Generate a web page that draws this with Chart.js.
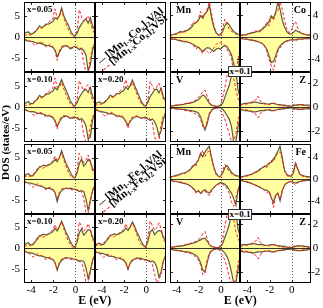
<!DOCTYPE html>
<html>
<head>
<meta charset="utf-8">
<script src="https://cdn.jsdelivr.net/npm/chart.js@4"></script>
<style>
html, body { margin: 0; padding: 0; background: #fff; }
#wrap { position: relative; width: 323px; height: 308px; }
#grab { position: absolute; left: 0; top: 0; }
.lg { position: absolute; height: 8px; font: bold 11px "Liberation Serif", serif; line-height: 8px; white-space: nowrap; color: #000;
      transform-origin: 0 100%; transform: rotate(-40deg); }
.lg sub { font-size: 7.5px; line-height: 0; vertical-align: -2px; }
.ln { display: inline-block; width: 8px; height: 0; border-top: 1px solid #5c5c3a; vertical-align: middle; margin-right: 2px; }
.ln.d { border-top: 1px dashed #ff2020; }
.bx { position: absolute; left: 228px; width: 24px; height: 11px; box-sizing: border-box; border: 1px solid #333; background: #fff;
      font: bold 9px "Liberation Serif", serif; line-height: 9px; text-align: center; color: #000; }
</style>
</head>
<body>
<div id="wrap">
<canvas id="grab" width="323" height="308"></canvas>
<div class="lg" style="left:100.5px;top:57px"><span class="ln"></span>[Mn<sub>1-x</sub>Co<sub>x</sub>]<sub>2</sub>VAl</div>
<div class="lg" style="left:105px;top:64px"><span class="ln d"></span>[Mn<sub>1-x</sub>Co<sub>x</sub>]<sub>2</sub>VSi</div>
<div class="lg" style="left:100.5px;top:199px"><span class="ln"></span>[Mn<sub>1-x</sub>Fe<sub>x</sub>]<sub>2</sub>VAl</div>
<div class="lg" style="left:105px;top:206px"><span class="ln d"></span>[Mn<sub>1-x</sub>Fe<sub>x</sub>]<sub>2</sub>VSi</div>
<div class="bx" style="top:66px">x=0.1</div>
<div class="bx" style="top:209px">x=0.1</div>
</div>
<script>
// energy grid (eV) shared by every curve
const energy = [-4.65, -4.45, -4.25, -4.05, -3.85, -3.65, -3.45, -3.25, -3.05, -2.85, -2.65, -2.45, -2.25, -2.05, -1.85, -1.65, -1.45, -1.25, -1.05, -0.85, -0.65, -0.45, -0.25, -0.05, 0.15, 0.35, 0.55, 0.75, 0.95, 1.15, 1.35, 1.55, 1.75];

const energyTicks = [-4, -2, 0];
const totalTicks = [-5, 0, 5];
const pdosTicks = [-4, 0, 4];
const smallTicks = [-2, 0, 2];

// total DOS, (Mn1-xCox)2VAl (solid) / (Mn1-xCox)2VSi (dashed)
const co005AlUp = [0.8, 1.1, 1.2, 0.7, 0.8, 1.2, 1.8, 2.6, 2.2, 2.6, 3.0, 3.0, 3.3, 3.6, 4.5, 4.2, 5.0, 6.8, 5.0, 3.8, 2.8, 1.5, 0.6, 0.2, 0.9, 2.2, 3.0, 3.8, 4.3, 3.2, 4.5, 2.6, 1.8];
const co005AlDn = [-0.6, -0.8, -1.0, -1.0, -1.1, -1.3, -1.5, -1.4, -1.6, -1.8, -2.0, -2.0, -2.2, -2.4, -3.0, -4.6, -3.6, -2.6, -2.2, -2.0, -2.3, -2.8, -2.4, -2.2, -2.6, -3.0, -2.6, -3.2, -4.2, -8.0, -6.5, -3.0, -1.5];
const co005SiUp = [0.3, 0.5, 0.6, 0.4, 0.9, 1.4, 1.8, 2.2, 2.0, 2.4, 2.8, 3.4, 3.8, 4.2, 6.6, 4.4, 4.8, 6.4, 4.4, 3.0, 1.8, 0.8, 0.2, 0.2, 1.5, 6.4, 4.8, 3.6, 4.2, 5.0, 3.8, 1.6, 0.8];
const co005SiDn = [-0.4, -0.6, -0.8, -1.0, -1.6, -2.0, -1.6, -1.2, -1.3, -1.6, -2.4, -2.0, -1.7, -2.2, -3.2, -5.5, -3.2, -2.2, -2.0, -2.0, -2.2, -2.4, -2.6, -2.5, -2.3, -2.6, -3.0, -6.0, -8.2, -8.2, -5.0, -2.4, -1.5];
const co010AlUp = [0.7, 1.0, 1.3, 0.8, 0.8, 1.3, 1.9, 2.7, 2.3, 2.5, 3.1, 3.0, 3.4, 3.7, 4.6, 4.0, 5.2, 6.4, 5.1, 3.9, 2.7, 1.4, 0.6, 0.2, 1.0, 2.3, 3.1, 3.9, 4.1, 3.4, 4.6, 2.4, 1.7];
const co010AlDn = [-0.6, -0.8, -1.0, -1.1, -1.1, -1.2, -1.5, -1.5, -1.6, -1.7, -2.0, -2.1, -2.2, -2.5, -3.2, -4.5, -3.5, -2.6, -2.3, -2.1, -2.3, -2.7, -2.4, -2.3, -2.7, -3.0, -2.7, -3.3, -4.4, -7.5, -7.0, -3.0, -1.6];
const co010SiUp = [0.3, 0.4, 0.7, 0.5, 1.0, 1.5, 1.7, 2.3, 2.1, 2.5, 2.9, 3.5, 3.9, 4.4, 6.8, 4.6, 4.6, 5.8, 4.2, 2.9, 1.7, 0.7, 0.2, 0.3, 1.8, 6.2, 5.0, 3.8, 4.8, 5.2, 3.6, 1.5, 0.8];
const co010SiDn = [-0.4, -0.6, -0.9, -1.2, -1.8, -2.1, -1.5, -1.2, -1.4, -1.7, -2.5, -2.0, -1.8, -2.3, -3.5, -5.2, -3.0, -2.2, -2.0, -2.1, -2.3, -2.5, -2.7, -2.6, -2.4, -2.7, -3.2, -6.5, -8.2, -8.2, -4.5, -2.2, -1.4];
const co020AlUp = [0.6, 1.0, 1.2, 0.9, 0.9, 1.4, 2.0, 2.8, 2.4, 2.6, 3.2, 3.1, 3.5, 3.8, 4.7, 4.1, 5.1, 6.3, 5.0, 3.8, 2.6, 1.3, 0.5, 0.2, 1.1, 2.4, 3.2, 4.0, 4.2, 3.3, 4.4, 2.3, 1.6];
const co020AlDn = [-0.6, -0.8, -1.0, -1.1, -1.2, -1.3, -1.5, -1.6, -1.6, -1.8, -2.1, -2.1, -2.3, -2.6, -3.3, -4.3, -3.4, -2.7, -2.4, -2.2, -2.4, -2.6, -2.5, -2.4, -2.8, -3.1, -2.8, -3.4, -4.6, -6.8, -5.5, -2.8, -1.5];
const co020SiUp = [0.3, 0.5, 0.7, 0.6, 1.1, 1.6, 1.9, 2.4, 2.2, 2.6, 3.0, 3.6, 4.0, 4.5, 6.4, 4.7, 4.7, 5.8, 4.3, 3.0, 1.8, 0.8, 0.3, 0.3, 1.6, 6.0, 5.0, 4.0, 4.6, 5.6, 3.8, 1.8, 1.0];
const co020SiDn = [-0.4, -0.6, -0.9, -1.3, -1.9, -2.2, -1.6, -1.2, -1.4, -1.8, -2.6, -2.1, -1.9, -2.4, -3.6, -5.0, -3.0, -2.3, -2.1, -2.1, -2.4, -2.6, -2.8, -2.7, -2.5, -2.8, -3.6, -7.0, -8.2, -8.0, -4.0, -2.0, -1.3];

// partial DOS, Co set (x = 0.1)
const mnCoAlUp = [0.3, 0.4, 0.5, 0.6, 0.8, 1.0, 0.9, 1.1, 1.2, 1.4, 1.8, 2.4, 2.6, 3.0, 3.8, 3.4, 4.2, 4.6, 5.8, 3.4, 1.8, 0.8, 0.4, 0.4, 1.0, 2.0, 2.6, 2.2, 1.5, 1.0, 0.7, 0.5, 0.4];
const mnCoAlDn = [-0.3, -0.4, -0.4, -0.5, -0.6, -0.7, -0.8, -0.9, -0.9, -1.0, -1.2, -1.4, -1.7, -1.9, -2.2, -2.6, -2.2, -1.9, -2.0, -2.3, -2.6, -2.2, -2.0, -2.2, -1.8, -1.5, -1.8, -2.4, -3.2, -4.8, -6.3, -6.3, -2.2];
const mnCoSiUp = [0.2, 0.3, 0.4, 0.5, 0.6, 0.8, 1.0, 0.9, 1.2, 1.6, 2.2, 2.8, 2.4, 3.2, 4.6, 3.6, 4.2, 5.0, 6.3, 4.2, 2.2, 0.8, 0.3, 0.4, 1.6, 3.2, 2.2, 1.4, 1.0, 0.8, 0.5, 0.3, 0.3];
const mnCoSiDn = [-0.2, -0.3, -0.3, -0.4, -0.5, -0.6, -0.7, -0.8, -0.8, -1.0, -1.2, -1.6, -2.2, -1.6, -2.4, -3.0, -2.2, -2.6, -3.0, -2.6, -2.0, -1.4, -1.0, -1.0, -1.2, -1.6, -2.2, -3.0, -3.8, -6.3, -6.3, -4.0, -1.8];
const coAlUp = [0.3, 0.4, 0.4, 0.5, 0.6, 0.7, 0.8, 0.9, 1.0, 1.2, 1.4, 1.8, 2.2, 2.8, 3.8, 3.4, 4.4, 6.3, 5.0, 3.0, 1.8, 1.0, 0.6, 0.5, 0.8, 1.2, 1.0, 0.8, 0.6, 0.5, 0.4, 0.4, 0.3];
const coAlDn = [-0.3, -0.3, -0.4, -0.4, -0.5, -0.5, -0.6, -0.7, -0.8, -1.0, -1.2, -1.6, -2.2, -3.4, -4.6, -4.4, -3.4, -2.2, -1.6, -1.2, -0.9, -0.7, -0.6, -0.5, -0.5, -0.5, -0.4, -0.4, -0.4, -0.3, -0.3, -0.3, -0.3];
const coSiUp = [0.2, 0.3, 0.3, 0.4, 0.6, 0.8, 1.0, 1.1, 1.0, 0.9, 1.6, 2.0, 2.6, 2.0, 3.6, 3.0, 4.2, 4.8, 6.3, 5.0, 3.0, 1.5, 0.8, 1.0, 2.2, 2.8, 1.6, 0.9, 0.6, 0.5, 0.4, 0.3, 0.3];
const coSiDn = [-0.2, -0.3, -0.3, -0.4, -0.5, -0.6, -0.7, -0.8, -0.9, -1.0, -1.2, -1.6, -2.6, -4.0, -5.2, -6.0, -4.2, -2.6, -2.0, -1.3, -1.0, -0.8, -0.6, -0.5, -0.5, -0.6, -0.5, -0.4, -0.4, -0.3, -0.3, -0.3, -0.3];
const vCoAlUp = [0.1, 0.1, 0.1, 0.15, 0.15, 0.2, 0.2, 0.25, 0.3, 0.3, 0.35, 0.4, 0.5, 0.6, 0.8, 1.0, 0.9, 0.6, 0.3, 0.15, 0.1, 0.05, 0.05, 0.1, 0.3, 0.8, 1.3, 1.8, 2.6, 2.9, 2.9, 1.4, 0.8];
const vCoAlDn = [-0.1, -0.1, -0.1, -0.15, -0.15, -0.2, -0.2, -0.2, -0.25, -0.3, -0.3, -0.35, -0.4, -0.5, -0.8, -1.4, -1.9, -1.4, -0.6, -0.3, -0.15, -0.1, -0.05, -0.05, -0.2, -0.4, -0.7, -1.0, -1.6, -2.9, -2.9, -1.6, -0.8];
const vCoSiUp = [0.1, 0.1, 0.15, 0.15, 0.2, 0.2, 0.25, 0.3, 0.3, 0.35, 0.4, 0.5, 0.6, 0.8, 1.0, 1.3, 1.4, 0.9, 0.4, 0.15, 0.1, 0.05, 0.05, 0.2, 0.8, 1.6, 2.6, 2.9, 2.9, 2.4, 1.4, 0.7, 0.4];
const vCoSiDn = [-0.1, -0.1, -0.15, -0.15, -0.2, -0.2, -0.25, -0.3, -0.3, -0.35, -0.4, -0.5, -0.6, -0.7, -1.0, -1.6, -1.8, -1.2, -0.5, -0.2, -0.1, -0.05, -0.1, -0.3, -0.6, -1.0, -1.6, -2.2, -2.9, -2.9, -2.2, -1.0, -0.5];
const zCoAlUp = [0.25, 0.25, 0.3, 0.3, 0.35, 0.35, 0.4, 0.4, 0.35, 0.3, 0.3, 0.3, 0.25, 0.25, 0.3, 0.3, 0.25, 0.2, 0.2, 0.15, 0.15, 0.1, 0.1, 0.05, 0.1, 0.15, 0.15, 0.2, 0.2, 0.15, 0.15, 0.15, 0.1];
const zCoAlDn = [-0.25, -0.25, -0.3, -0.3, -0.35, -0.35, -0.4, -0.4, -0.35, -0.3, -0.3, -0.3, -0.25, -0.25, -0.3, -0.3, -0.25, -0.2, -0.2, -0.15, -0.15, -0.1, -0.1, -0.05, -0.1, -0.15, -0.15, -0.2, -0.2, -0.15, -0.15, -0.15, -0.1];
const zCoSiUp = [0.15, 0.2, 0.2, 0.25, 0.3, 0.4, 0.5, 0.6, 0.9, 0.5, 0.3, 0.25, 0.2, 0.2, 0.25, 0.3, 0.3, 0.2, 0.15, 0.1, 0.1, 0.05, 0.05, 0.1, 0.2, 0.25, 0.2, 0.15, 0.15, 0.15, 0.1, 0.1, 0.1];
const zCoSiDn = [-0.15, -0.2, -0.2, -0.25, -0.3, -0.4, -0.5, -0.6, -0.9, -0.6, -0.3, -0.25, -0.2, -0.2, -0.25, -0.3, -0.3, -0.2, -0.15, -0.1, -0.1, -0.05, -0.05, -0.1, -0.2, -0.25, -0.2, -0.15, -0.15, -0.15, -0.1, -0.1, -0.1];

// total DOS, (Mn1-xFex)2VAl / (Mn1-xFex)2VSi
const fe005AlUp = [0.6, 1.0, 1.2, 0.7, 0.7, 1.4, 2.0, 2.8, 3.0, 3.2, 3.0, 3.2, 3.5, 3.8, 4.6, 4.0, 5.0, 6.6, 5.0, 3.6, 2.6, 1.4, 0.5, 0.2, 1.4, 3.6, 4.6, 3.0, 3.6, 4.6, 4.0, 2.4, 1.8];
const fe005AlDn = [-0.7, -0.9, -1.0, -1.0, -1.2, -1.3, -1.6, -1.7, -1.8, -2.0, -2.3, -2.2, -2.4, -2.6, -3.2, -5.4, -3.6, -2.8, -2.4, -2.2, -2.3, -2.2, -2.4, -2.5, -2.7, -3.0, -2.8, -3.0, -4.8, -7.5, -5.0, -2.8, -1.6];
const fe005SiUp = [0.4, 0.6, 0.7, 0.5, 1.0, 1.6, 2.4, 3.0, 2.4, 2.6, 3.0, 3.4, 3.8, 4.2, 5.4, 4.2, 5.0, 6.0, 4.5, 3.0, 1.6, 0.7, 0.2, 0.3, 2.0, 6.0, 5.0, 3.8, 4.4, 5.6, 4.2, 1.8, 1.0];
const fe005SiDn = [-0.5, -0.8, -1.0, -1.5, -2.0, -1.6, -1.2, -1.4, -1.8, -2.2, -2.6, -2.2, -2.0, -2.4, -3.4, -4.6, -3.2, -2.4, -2.2, -2.3, -2.4, -2.5, -2.6, -2.6, -2.5, -2.8, -3.2, -4.6, -8.2, -8.2, -5.5, -2.6, -1.6];
const fe010AlUp = [0.7, 1.1, 1.3, 0.8, 0.8, 1.5, 2.1, 2.9, 3.1, 3.3, 3.1, 3.3, 3.6, 3.9, 4.7, 4.1, 5.1, 6.4, 5.1, 3.7, 2.7, 1.5, 0.6, 0.2, 1.5, 3.7, 4.5, 3.1, 3.7, 4.4, 4.2, 2.6, 1.8];
const fe010AlDn = [-0.7, -0.9, -1.1, -1.1, -1.2, -1.4, -1.7, -1.8, -1.8, -2.0, -2.2, -2.2, -2.5, -2.7, -3.3, -5.2, -3.6, -2.9, -2.5, -2.2, -2.3, -2.3, -2.5, -2.6, -2.8, -3.1, -2.9, -3.1, -4.6, -7.2, -5.2, -2.8, -1.6];
const fe010SiUp = [0.4, 0.6, 0.8, 0.6, 1.1, 1.7, 2.5, 3.1, 2.5, 2.7, 3.1, 3.5, 3.9, 4.3, 5.6, 4.3, 5.1, 6.2, 4.6, 3.1, 1.7, 0.8, 0.2, 0.3, 2.2, 6.2, 5.2, 4.0, 4.6, 5.8, 4.4, 2.0, 1.1];
const fe010SiDn = [-0.5, -0.8, -1.1, -1.6, -2.1, -1.7, -1.3, -1.5, -1.9, -2.3, -2.7, -2.3, -2.1, -2.5, -3.5, -4.8, -3.3, -2.5, -2.3, -2.4, -2.5, -2.6, -2.7, -2.7, -2.6, -2.9, -3.4, -5.0, -8.2, -8.2, -5.8, -2.8, -1.7];
const fe020AlUp = [0.7, 1.0, 1.2, 0.9, 0.9, 1.6, 2.2, 3.0, 3.2, 3.4, 3.2, 3.4, 3.7, 4.0, 4.8, 4.2, 5.0, 6.2, 5.2, 3.8, 2.8, 1.6, 0.7, 0.3, 1.6, 3.8, 4.4, 3.2, 3.8, 4.2, 4.0, 2.6, 1.9];
const fe020AlDn = [-0.7, -1.0, -1.1, -1.2, -1.3, -1.5, -1.8, -1.9, -1.9, -2.1, -2.3, -2.3, -2.6, -2.8, -3.4, -5.0, -3.5, -2.9, -2.6, -2.3, -2.4, -2.4, -2.6, -2.7, -2.9, -3.2, -3.0, -3.3, -4.4, -6.8, -5.6, -3.0, -1.7];
const fe020SiUp = [0.5, 0.7, 0.8, 0.7, 1.2, 1.8, 2.6, 3.2, 2.6, 2.8, 3.2, 3.6, 4.0, 4.4, 5.8, 4.4, 5.2, 6.0, 4.7, 3.2, 1.8, 0.9, 0.3, 0.4, 2.4, 6.4, 5.4, 4.2, 4.8, 6.0, 4.6, 2.2, 1.2];
const fe020SiDn = [-0.5, -0.9, -1.2, -1.7, -2.2, -1.8, -1.4, -1.6, -2.0, -2.4, -2.8, -2.4, -2.2, -2.6, -3.6, -5.0, -3.4, -2.6, -2.4, -2.5, -2.6, -2.7, -2.8, -2.8, -2.7, -3.0, -3.8, -6.0, -8.2, -7.5, -6.0, -3.0, -1.8];

// partial DOS, Fe set (x = 0.1)
const mnFeAlUp = [0.3, 0.4, 0.5, 0.6, 0.7, 0.9, 1.0, 1.1, 1.3, 1.5, 2.0, 2.4, 2.8, 3.4, 4.6, 4.0, 4.8, 5.4, 5.9, 3.8, 2.2, 1.0, 0.5, 0.4, 1.0, 2.0, 2.4, 1.8, 1.2, 0.8, 0.6, 0.5, 0.4];
const mnFeAlDn = [-0.3, -0.4, -0.5, -0.5, -0.6, -0.7, -0.8, -0.9, -1.0, -1.2, -1.5, -1.9, -2.4, -2.2, -2.6, -2.2, -2.0, -2.4, -2.6, -2.0, -1.6, -1.2, -0.9, -0.7, -0.8, -1.0, -1.4, -2.0, -2.6, -3.6, -4.8, -2.0, -1.0];
const mnFeSiUp = [0.2, 0.3, 0.4, 0.5, 0.6, 0.8, 1.0, 1.0, 1.2, 1.6, 2.2, 2.6, 2.4, 3.4, 4.2, 5.2, 4.0, 4.8, 5.0, 3.6, 2.0, 0.8, 0.3, 0.4, 1.4, 2.6, 2.0, 1.2, 0.9, 0.7, 0.5, 0.3, 0.3];
const mnFeSiDn = [-0.2, -0.3, -0.4, -0.5, -0.5, -0.6, -0.7, -0.8, -1.0, -1.2, -1.6, -2.0, -2.6, -2.0, -2.8, -2.4, -2.2, -2.8, -3.0, -2.2, -1.6, -1.2, -1.0, -0.9, -1.0, -1.3, -1.8, -2.6, -4.2, -5.0, -3.4, -1.8, -1.0];
const feAlUp = [0.3, 0.4, 0.5, 0.6, 0.7, 0.8, 1.0, 1.2, 1.4, 1.8, 2.0, 2.2, 2.4, 2.8, 3.0, 3.6, 4.2, 5.0, 5.9, 3.8, 1.6, 0.8, 0.6, 0.4, 1.0, 2.8, 1.8, 0.8, 0.6, 0.5, 0.4, 0.4, 0.3];
const feAlDn = [-0.3, -0.4, -0.5, -0.6, -0.7, -0.9, -1.0, -1.2, -1.4, -1.6, -1.8, -2.0, -2.1, -2.4, -3.4, -4.3, -3.0, -2.6, -4.0, -2.2, -1.2, -0.8, -0.6, -0.5, -0.6, -0.8, -0.6, -0.5, -0.4, -0.4, -0.3, -0.3, -0.3];
const feSiUp = [0.2, 0.3, 0.4, 0.5, 0.6, 0.8, 1.0, 1.2, 1.2, 1.6, 2.0, 2.4, 2.0, 2.6, 3.4, 3.0, 4.0, 4.6, 4.9, 3.4, 1.4, 0.6, 0.4, 0.5, 1.4, 3.0, 1.6, 0.7, 0.5, 0.4, 0.3, 0.3, 0.3];
const feSiDn = [-0.2, -0.3, -0.4, -0.5, -0.6, -0.8, -1.0, -1.2, -1.2, -1.5, -1.8, -2.2, -2.6, -2.2, -3.4, -5.2, -3.2, -2.8, -3.6, -2.0, -1.2, -0.7, -0.5, -0.5, -0.8, -1.2, -0.7, -0.5, -0.4, -0.3, -0.3, -0.3, -0.3];
const vFeAlUp = [0.1, 0.1, 0.1, 0.15, 0.15, 0.2, 0.2, 0.25, 0.3, 0.35, 0.4, 0.45, 0.5, 0.6, 0.7, 0.8, 0.85, 0.6, 0.3, 0.15, 0.1, 0.05, 0.05, 0.1, 0.4, 0.9, 1.4, 2.0, 2.8, 2.9, 2.9, 1.6, 0.9];
const vFeAlDn = [-0.1, -0.1, -0.15, -0.15, -0.2, -0.2, -0.25, -0.3, -0.3, -0.35, -0.4, -0.5, -0.6, -0.8, -1.2, -1.8, -2.0, -1.2, -0.5, -0.2, -0.1, -0.05, -0.05, -0.1, -0.2, -0.4, -0.7, -1.2, -2.0, -2.9, -2.9, -1.8, -0.9];
const vFeSiUp = [0.1, 0.1, 0.15, 0.15, 0.2, 0.2, 0.25, 0.3, 0.35, 0.4, 0.45, 0.5, 0.6, 0.7, 0.9, 1.2, 1.4, 0.8, 0.3, 0.15, 0.1, 0.05, 0.1, 0.2, 0.8, 1.8, 2.8, 2.9, 2.9, 2.4, 1.4, 0.8, 0.4];
const vFeSiDn = [-0.1, -0.1, -0.15, -0.2, -0.2, -0.25, -0.3, -0.3, -0.35, -0.4, -0.5, -0.6, -0.8, -1.0, -1.4, -2.2, -2.0, -1.0, -0.4, -0.2, -0.1, -0.05, -0.1, -0.3, -0.6, -1.0, -1.6, -2.4, -2.9, -2.9, -2.6, -1.2, -0.6];
const zFeAlUp = [0.25, 0.3, 0.3, 0.3, 0.35, 0.35, 0.4, 0.35, 0.3, 0.3, 0.3, 0.25, 0.25, 0.25, 0.3, 0.3, 0.25, 0.2, 0.2, 0.15, 0.15, 0.1, 0.1, 0.05, 0.1, 0.15, 0.2, 0.2, 0.2, 0.15, 0.15, 0.1, 0.1];
const zFeAlDn = [-0.25, -0.3, -0.3, -0.3, -0.35, -0.35, -0.4, -0.35, -0.3, -0.3, -0.3, -0.25, -0.25, -0.25, -0.3, -0.3, -0.25, -0.2, -0.2, -0.15, -0.15, -0.1, -0.1, -0.05, -0.1, -0.15, -0.2, -0.2, -0.2, -0.15, -0.15, -0.1, -0.1];
const zFeSiUp = [0.15, 0.2, 0.25, 0.25, 0.3, 0.4, 0.5, 0.6, 0.9, 0.5, 0.3, 0.25, 0.2, 0.2, 0.25, 0.3, 0.3, 0.2, 0.15, 0.1, 0.1, 0.05, 0.05, 0.1, 0.15, 0.25, 0.2, 0.15, 0.15, 0.1, 0.1, 0.1, 0.1];
const zFeSiDn = [-0.15, -0.2, -0.25, -0.25, -0.3, -0.4, -0.5, -0.6, -0.9, -0.6, -0.3, -0.25, -0.2, -0.2, -0.25, -0.3, -0.3, -0.2, -0.15, -0.1, -0.1, -0.05, -0.05, -0.1, -0.15, -0.25, -0.2, -0.15, -0.15, -0.1, -0.1, -0.1, -0.1];

const serif = '"Liberation Serif", "Times New Roman", serif';
const alColor = '#5c5c3a';
const alFill = '#ffffa0';
const siColor = '#ff2020';

// one entry per sub-panel; x/y are the scale ids of its column and row
const panels = [
  {x: 'x1', y: 'yl1', name: 'x=0.05', al: [co005AlUp, co005AlDn], si: [co005SiUp, co005SiDn]},
  {x: 'x2', y: 'yl1', legend: true},
  {x: 'x1', y: 'yl2', name: 'x=0.10', al: [co010AlUp, co010AlDn], si: [co010SiUp, co010SiDn]},
  {x: 'x2', y: 'yl2', name: 'x=0.20', al: [co020AlUp, co020AlDn], si: [co020SiUp, co020SiDn]},
  {x: 'x3', y: 'yr1', name: 'Mn', big: true, al: [mnCoAlUp, mnCoAlDn], si: [mnCoSiUp, mnCoSiDn]},
  {x: 'x4', y: 'yr1', name: 'Co', big: true, right: true, al: [coAlUp, coAlDn], si: [coSiUp, coSiDn]},
  {x: 'x3', y: 'yr2', name: 'V', big: true, al: [vCoAlUp, vCoAlDn], si: [vCoSiUp, vCoSiDn]},
  {x: 'x4', y: 'yr2', name: 'Z', big: true, right: true, al: [zCoAlUp, zCoAlDn], si: [zCoSiUp, zCoSiDn]},
  {x: 'x1', y: 'yl3', name: 'x=0.05', al: [fe005AlUp, fe005AlDn], si: [fe005SiUp, fe005SiDn]},
  {x: 'x2', y: 'yl3', legend: true},
  {x: 'x1', y: 'yl4', name: 'x=0.10', al: [fe010AlUp, fe010AlDn], si: [fe010SiUp, fe010SiDn]},
  {x: 'x2', y: 'yl4', name: 'x=0.20', al: [fe020AlUp, fe020AlDn], si: [fe020SiUp, fe020SiDn]},
  {x: 'x3', y: 'yr3', name: 'Mn', big: true, al: [mnFeAlUp, mnFeAlDn], si: [mnFeSiUp, mnFeSiDn]},
  {x: 'x4', y: 'yr3', name: 'Fe', big: true, right: true, al: [feAlUp, feAlDn], si: [feSiUp, feSiDn]},
  {x: 'x3', y: 'yr4', name: 'V', big: true, al: [vFeAlUp, vFeAlDn], si: [vFeSiUp, vFeSiDn]},
  {x: 'x4', y: 'yr4', name: 'Z', big: true, right: true, al: [zFeAlUp, zFeAlDn], si: [zFeSiUp, zFeSiDn]}
];

const rowTicks = {yl1: totalTicks, yl2: totalTicks, yl3: totalTicks, yl4: totalTicks,
                  yr1: pdosTicks, yr2: smallTicks, yr3: pdosTicks, yr4: smallTicks};

const pts = (ys) => ys.map((y, i) => ({x: energy[i], y: y}));

const siSets = [];
const alSets = [];
panels.forEach(p => {
  if (p.legend) return;
  p.si.forEach(arr => siSets.push({
    data: pts(arr), xAxisID: p.x, yAxisID: p.y,
    borderColor: siColor, borderWidth: 1, borderDash: [3, 2], fill: false
  }));
  p.al.forEach(arr => alSets.push({
    data: pts(arr), xAxisID: p.x, yAxisID: p.y,
    borderColor: alColor, borderWidth: 1.2, backgroundColor: alFill, fill: 'origin'
  }));
});

const tickFont = {family: serif, size: 11};
const setTicks = (vals) => (s) => { s.ticks = vals.map(v => ({value: v})); };
const fixSize = (w, h) => (s) => {
  if (w) s.width = w;
  if (h) s.height = h;
  s.paddingTop = 0; s.paddingBottom = 0; s.paddingLeft = 0; s.paddingRight = 0;
};

function xAxis(w, wt, shown) {
  return {
    type: 'linear', axis: 'x', position: 'bottom', stack: 'bx', stackWeight: w, weight: wt, display: shown,
    min: -4.65, max: 1.75,
    afterBuildTicks: setTicks(energyTicks),
    ticks: {font: tickFont, color: '#000', padding: 1, autoSkip: false, maxRotation: 0},
    grid: {display: false, drawTicks: false}, border: {display: false},
    afterFit: fixSize(0, 12)
  };
}
function titleX(w, wt, text) {
  return {
    type: 'linear', axis: 'x', position: 'bottom', stack: 'bt', stackWeight: w, weight: wt, display: true,
    ticks: {display: false}, grid: {display: false, drawTicks: false}, border: {display: false},
    title: {display: !!text, text: text, color: '#000', padding: 0, font: {family: serif, size: 12, weight: 'bold'}},
    afterFit: fixSize(0, 13)
  };
}
function yAxis(pos, w, wt, lim, vals, shown) {
  return {
    type: 'linear', axis: 'y', position: pos, stack: pos === 'left' ? 'ly' : 'ry', stackWeight: w, weight: wt, display: shown,
    min: -lim, max: lim,
    afterBuildTicks: setTicks(vals || []),
    ticks: {font: tickFont, color: '#000', padding: pos === 'left' ? 4 : 0,
            crossAlign: pos === 'left' ? 'near' : 'center', autoSkip: false},
    grid: {display: false, drawTicks: false}, border: {display: false},
    afterFit: fixSize(12, 0)
  };
}

const scales = {
  x1: xAxis(70.8, 1, true),
  x2: xAxis(70.8, 2, true),
  xGap: xAxis(4, 3, false),
  x3: xAxis(70.7, 4, true),
  x4: xAxis(70.7, 5, true),
  btL: titleX(141.6, 6, 'E (eV)'),
  btGap: titleX(4, 7, ''),
  btR: titleX(141.4, 8, 'E (eV)'),
  yTitle: {
    type: 'linear', axis: 'y', position: 'left', weight: 20,
    ticks: {display: false}, grid: {display: false, drawTicks: false}, border: {display: false},
    title: {display: true, text: 'DOS (states/eV)', color: '#000', padding: 0, font: {family: serif, size: 11, weight: 'bold'}},
    afterFit: fixSize(12, 0)
  },
  yl1: yAxis('left', 70, 5, 8.2, totalTicks, true),
  yl2: yAxis('left', 70, 4, 8.2, totalTicks, true),
  ylGap: yAxis('left', 2, 3, 1, null, false),
  yl3: yAxis('left', 69.5, 2, 8.2, totalTicks, true),
  yl4: yAxis('left', 69.5, 1, 8.2, totalTicks, true),
  yr1: yAxis('right', 70, 1, 6.3, pdosTicks, true),
  yr2: yAxis('right', 70, 2, 2.9, smallTicks, true),
  yrGap: yAxis('right', 2, 3, 1, null, false),
  yr3: yAxis('right', 69.5, 4, 6.3, pdosTicks, true),
  yr4: yAxis('right', 69.5, 5, 2.9, smallTicks, true)
};

// frames, zero lines, Fermi level, inner ticks and panel names
const panelDecor = {
  id: 'panelDecor',
  afterDatasetsDraw(chart) {
    const ctx = chart.ctx;
    panels.forEach(p => {
      const xs = chart.scales[p.x], ys = chart.scales[p.y];
      const l = Math.round(xs.left), r = Math.round(xs.right);
      const t = Math.round(ys.top), b = Math.round(ys.bottom);
      ctx.save();
      if (!p.legend) {
        const y0 = Math.round(ys.getPixelForValue(0)) + 0.5;
        ctx.strokeStyle = '#333';
        ctx.lineWidth = 1;
        ctx.beginPath(); ctx.moveTo(l, y0); ctx.lineTo(r, y0); ctx.stroke();
        const x0 = Math.round(xs.getPixelForValue(0)) + 0.5;
        ctx.setLineDash([1, 2]);
        ctx.strokeStyle = '#555';
        ctx.beginPath(); ctx.moveTo(x0, t); ctx.lineTo(x0, b); ctx.stroke();
        ctx.setLineDash([]);
      }
      ctx.strokeStyle = '#222';
      ctx.lineWidth = 1;
      ctx.beginPath();
      energyTicks.forEach(v => {
        const px = Math.round(xs.getPixelForValue(v)) + 0.5;
        ctx.moveTo(px, b); ctx.lineTo(px, b - 3);
        ctx.moveTo(px, t); ctx.lineTo(px, t + 3);
      });
      rowTicks[p.y].forEach(v => {
        const py = Math.round(ys.getPixelForValue(v)) + 0.5;
        ctx.moveTo(l, py); ctx.lineTo(l + 3, py);
        ctx.moveTo(r, py); ctx.lineTo(r - 3, py);
      });
      ctx.stroke();
      ctx.strokeStyle = '#000';
      ctx.strokeRect(l + 0.5, t + 0.5, r - l - 1, b - t - 1);
      if (p.name) {
        ctx.fillStyle = '#000';
        ctx.font = 'bold ' + (p.big ? 10 : 9) + 'px ' + serif;
        ctx.textBaseline = 'alphabetic';
        if (p.right) {
          ctx.textAlign = 'right';
          ctx.fillText(p.name, r - 5, t + 11);
        } else {
          ctx.textAlign = 'left';
          ctx.fillText(p.name, l + (p.big ? 6 : 3), t + (p.big ? 11 : 10));
        }
      }
      ctx.restore();
    });
  }
};

new Chart(document.getElementById('grab'), {
  type: 'line',
  data: {datasets: siSets.concat(alSets)},
  options: {
    responsive: false,
    animation: false,
    layout: {padding: {top: 2, left: 0, right: 0, bottom: 0}},
    elements: {point: {radius: 0}, line: {tension: 0}},
    plugins: {legend: {display: false}, tooltip: {enabled: false}},
    scales: scales
  },
  plugins: [panelDecor]
});
</script>
</body>
</html>
